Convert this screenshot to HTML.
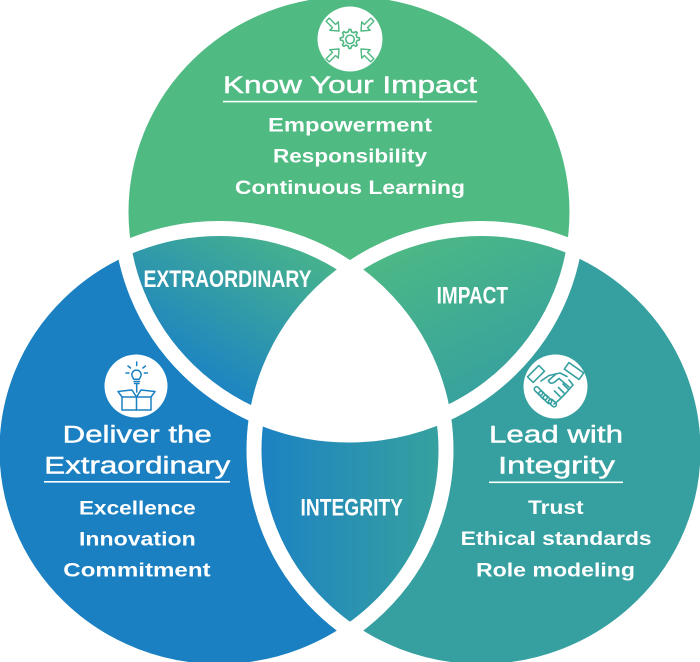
<!DOCTYPE html>
<html>
<head>
<meta charset="utf-8">
<style>
  html,body{margin:0;padding:0;background:#ffffff;}
  svg{display:block;}
  text{font-family:"Liberation Sans",sans-serif;fill:#ffffff;}
  .t{font-size:24px;font-weight:400;stroke:#ffffff;stroke-width:0.45px;}
  .b{font-size:19px;font-weight:700;}
  .l{font-size:24px;font-weight:700;}
</style>
</head>
<body>
<svg width="700" height="662" viewBox="0 0 700 662" xmlns="http://www.w3.org/2000/svg">
  <defs>
    <clipPath id="cT"><ellipse cx="349" cy="212" rx="228" ry="223"/></clipPath>
    <clipPath id="cL"><ellipse cx="219" cy="450" rx="227" ry="221.5"/></clipPath>
    <clipPath id="cR"><ellipse cx="481" cy="450" rx="227" ry="221.5"/></clipPath>
    <linearGradient id="gE" gradientUnits="userSpaceOnUse" x1="230" y1="400" x2="330" y2="240">
      <stop offset="0" stop-color="#1c83c3"/>
      <stop offset="1" stop-color="#4cb886"/>
    </linearGradient>
    <linearGradient id="gI" gradientUnits="userSpaceOnUse" x1="400" y1="250" x2="470" y2="400">
      <stop offset="0" stop-color="#4cb886"/>
      <stop offset="1" stop-color="#37a19e"/>
    </linearGradient>
    <linearGradient id="gN" gradientUnits="userSpaceOnUse" x1="262" y1="0" x2="438" y2="0">
      <stop offset="0" stop-color="#1c82c3"/>
      <stop offset="1" stop-color="#36a19f"/>
    </linearGradient>
    <path id="arr" d="M0,0 L-7,-6 L-7,-2.2 L-16,-2.2 L-16,2.2 L-7,2.2 L-7,6 Z"/>
  </defs>

  <!-- base circles -->
  <ellipse cx="349" cy="212" rx="228" ry="223" fill="#4fba82"/>
  <ellipse cx="219" cy="450" rx="227" ry="221.5" fill="#1a80c2"/>
  <ellipse cx="481" cy="450" rx="227" ry="221.5" fill="#35a09f"/>

  <!-- pairwise intersections -->
  <g clip-path="url(#cT)"><ellipse cx="219" cy="450" rx="227" ry="221.5" fill="url(#gE)"/></g>
  <g clip-path="url(#cT)"><ellipse cx="481" cy="450" rx="227" ry="221.5" fill="url(#gI)"/></g>
  <g clip-path="url(#cL)"><ellipse cx="481" cy="450" rx="227" ry="221.5" fill="url(#gN)"/></g>
  <!-- triple intersection -->
  <g clip-path="url(#cT)"><g clip-path="url(#cL)"><ellipse cx="481" cy="450" rx="227" ry="221.5" fill="#ffffff"/></g></g>

  <!-- white separators -->
  <g fill="none" stroke="#ffffff" stroke-width="15">
    <ellipse cx="349" cy="212" rx="228" ry="223"/>
    <ellipse cx="219" cy="450" rx="227" ry="221.5"/>
    <ellipse cx="481" cy="450" rx="227" ry="221.5"/>
  </g>

  <!-- TOP TEXT -->
  <text class="t" x="223" y="93" textLength="254" lengthAdjust="spacingAndGlyphs">Know Your Impact</text>
  <rect x="223" y="100.8" width="254" height="1.6" fill="#ffffff"/>
  <text class="b" x="268" y="131.5" textLength="164" lengthAdjust="spacingAndGlyphs">Empowerment</text>
  <text class="b" x="273" y="162.5" textLength="154" lengthAdjust="spacingAndGlyphs">Responsibility</text>
  <text class="b" x="235" y="194" textLength="230" lengthAdjust="spacingAndGlyphs">Continuous Learning</text>

  <!-- LEFT TEXT -->
  <text class="t" x="62.7" y="442.3" textLength="149" lengthAdjust="spacingAndGlyphs">Deliver the</text>
  <text class="t" x="44.3" y="473.3" textLength="186" lengthAdjust="spacingAndGlyphs">Extraordinary</text>
  <rect x="44" y="481" width="186" height="1.6" fill="#ffffff"/>
  <text class="b" x="79" y="514.3" textLength="116.7" lengthAdjust="spacingAndGlyphs">Excellence</text>
  <text class="b" x="79" y="545.7" textLength="116.7" lengthAdjust="spacingAndGlyphs">Innovation</text>
  <text class="b" x="63.3" y="576.7" textLength="147.3" lengthAdjust="spacingAndGlyphs">Commitment</text>

  <!-- RIGHT TEXT -->
  <text class="t" x="489" y="442.3" textLength="134" lengthAdjust="spacingAndGlyphs">Lead with</text>
  <text class="t" x="498" y="473.3" textLength="117" lengthAdjust="spacingAndGlyphs">Integrity</text>
  <rect x="489" y="481.5" width="134" height="1.6" fill="#ffffff"/>
  <text class="b" x="528" y="514" textLength="55.5" lengthAdjust="spacingAndGlyphs">Trust</text>
  <text class="b" x="460.7" y="545" textLength="191" lengthAdjust="spacingAndGlyphs">Ethical standards</text>
  <text class="b" x="476" y="576.7" textLength="159" lengthAdjust="spacingAndGlyphs">Role modeling</text>

  <!-- INTERSECTION LABELS -->
  <text class="l" x="143.5" y="287" textLength="168" lengthAdjust="spacingAndGlyphs">EXTRAORDINARY</text>
  <text class="l" x="436.6" y="303.3" textLength="71.4" lengthAdjust="spacingAndGlyphs">IMPACT</text>
  <text class="l" x="300.5" y="515.5" textLength="102.5" lengthAdjust="spacingAndGlyphs">INTEGRITY</text>

  <!-- TOP ICON -->
  <circle cx="350" cy="39" r="32.5" fill="#ffffff"/>
  <g fill="none" stroke="#4db882" stroke-width="1.4" stroke-linejoin="round">
    <g transform="translate(350,39.5) scale(1.12) translate(-350.3,-39.5)">
    <path d="M349.5,30.5 l1.6,0 l0.6,2.2 l1.9,0.8 l2,-1.1 l1.2,1.2 l-1.1,2 l0.8,1.9 l2.2,0.6 l0,1.8 l-2.2,0.6 l-0.8,1.9 l1.1,2 l-1.2,1.2 l-2,-1.1 l-1.9,0.8 l-0.6,2.2 l-1.8,0 l-0.6,-2.2 l-1.9,-0.8 l-2,1.1 l-1.2,-1.2 l1.1,-2 l-0.8,-1.9 l-2.2,-0.6 l0,-1.8 l2.2,-0.6 l0.8,-1.9 l-1.1,-2 l1.2,-1.2 l2,1.1 l1.9,-0.8 Z"/>
    <circle cx="350.3" cy="39.4" r="3.8"/>
    </g>
    <use href="#arr" transform="translate(339,31) rotate(45)"/>
    <use href="#arr" transform="translate(361,31) rotate(135)"/>
    <use href="#arr" transform="translate(339,49) rotate(-45)"/>
    <use href="#arr" transform="translate(361,49) rotate(-135)"/>
  </g>

  <!-- LEFT ICON -->
  <circle cx="136" cy="386" r="31.5" fill="#ffffff"/>
  <g fill="none" stroke="#1a80c2" stroke-width="1.5" stroke-linejoin="round" stroke-linecap="round">
    <rect x="122" y="397" width="29" height="13"/>
    <line x1="136.5" y1="397" x2="136.5" y2="410"/>
    <path d="M122,397 L118,391.5 L132,390 L136.5,397 L141,390 L155,391.5 L151,397"/>
    <path d="M132.5,377 a4.6,4.6 0 1 1 8,0 l-1.2,2.2 l-5.6,0 Z"/>
    <line x1="134" y1="381.5" x2="139.5" y2="381.5"/>
    <line x1="134.5" y1="383.5" x2="139" y2="383.5"/>
    <line x1="136.7" y1="384" x2="136.7" y2="392"/>
    <line x1="136.7" y1="362" x2="136.7" y2="365.5"/>
    <line x1="128" y1="366" x2="130.5" y2="368"/>
    <line x1="145.4" y1="366" x2="142.9" y2="368"/>
    <line x1="126" y1="373" x2="129" y2="373"/>
    <line x1="144.4" y1="373" x2="147.4" y2="373"/>
  </g>

  <!-- RIGHT ICON (handshake) -->
  <circle cx="555.5" cy="386.5" r="32" fill="#ffffff"/>
  <g fill="none" stroke="#35a09f" stroke-width="1.6" stroke-linejoin="round" stroke-linecap="round">
    <rect x="-8" y="-4" width="16" height="8" transform="translate(536,374) rotate(-45)"/>
    <rect x="-9" y="-4" width="18" height="8" transform="translate(574,371) rotate(35)"/>
    <path d="M541,381 L549,375.5 L560,373 L567,376.5"/>
    <path d="M556,374 L548.5,380.5 Q549.5,384.5 554,382.5 L559,378.5 L569,387"/>
    <path d="M569,380 L573,385 L566,393 L559,400 L554,404"/>
    <rect x="-5" y="-2.3" width="10" height="4.6" rx="2.3" transform="translate(538.5,391) rotate(45)"/>
    <rect x="-5" y="-2.3" width="10" height="4.6" rx="2.3" transform="translate(543,395.5) rotate(45)"/>
    <rect x="-5" y="-2.3" width="10" height="4.6" rx="2.3" transform="translate(547.5,399.5) rotate(45)"/>
    <rect x="-4.5" y="-2.3" width="9" height="4.6" rx="2.3" transform="translate(552.5,403) rotate(45)"/>
    <line x1="554.5" y1="391" x2="560" y2="396.5"/>
    <line x1="558.5" y1="387.5" x2="564" y2="393"/>
    <line x1="563" y1="384" x2="568" y2="389"/>
  </g>
</svg>
</body>
</html>
